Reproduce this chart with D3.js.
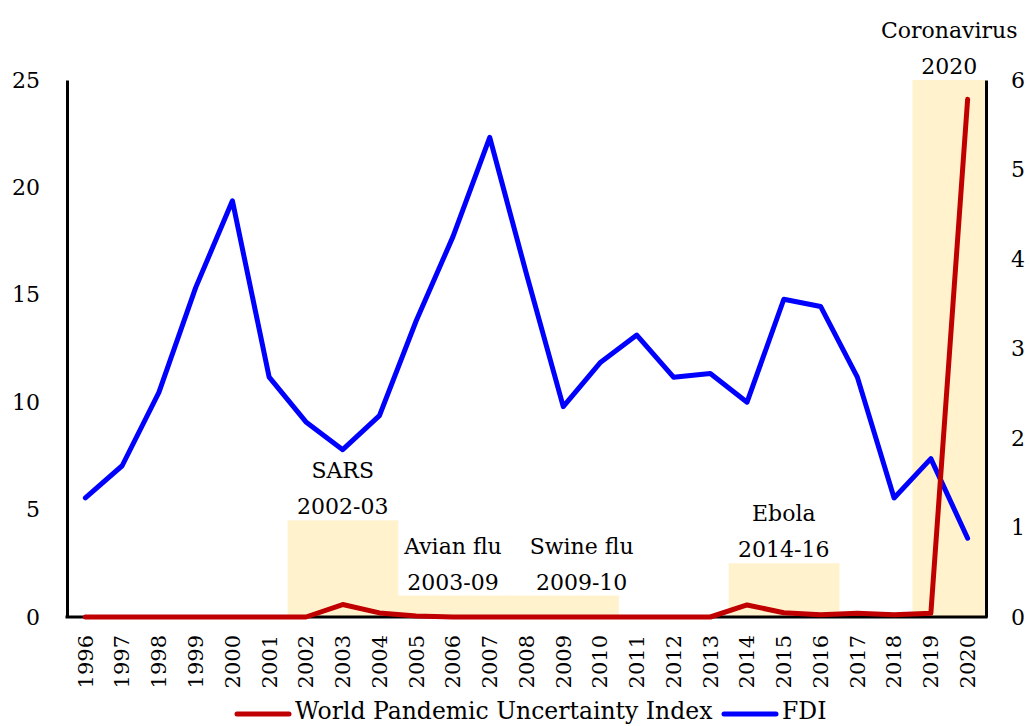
<!DOCTYPE html>
<html>
<head>
<meta charset="utf-8">
<script src="https://cdn.jsdelivr.net/npm/d3@7"></script>
<style>
  body { margin: 0; background: #fff; }
  svg { display: block; font-family: "Palatino Linotype", "Book Antiqua", Palatino, "DejaVu Serif", serif; }
</style>
</head>
<body>
<svg id="chart" width="1030" height="726"></svg>
<script>
// data
const years = ["1996","1997","1998","1999","2000","2001","2002","2003","2004","2005","2006","2007","2008",
               "2009","2010","2011","2012","2013","2014","2015","2016","2017","2018","2019","2020"];
const wpui = [0,0,0,0,0,0,0,0.58,0.19,0.05,0,0,0,0,0,0,0,0,0.56,0.2,0.1,0.17,0.1,0.17,24.1];
const fdi = [1.33,1.69,2.51,3.68,4.65,2.68,2.18,1.87,2.25,3.31,4.25,5.36,3.83,
             2.35,2.84,3.15,2.68,2.72,2.40,3.55,3.47,2.68,1.33,1.77,0.88];
// shaded pandemic periods (left axis)
const pandemicBars = [0,0,0,0,0,0,4.5,4.5,4.5,1,1,1,1,1,1,0,0,0,2.5,2.5,2.5,0,0,25,25];
const pandemicNames = ["SARS","Avian flu","Swine flu","Ebola","Coronavirus"];
const pandemicPeriods = ["2002-03","2003-09","2009-10","2014-16","2020"];
const pandemicLabelYears = [["2003","2003"],["2006","2006"],["2009","2010"],["2015","2015"],["2019","2020"]];
const pandemicLabelBase = [4.5,1,1,2.5,25];
const leftTicks = [0,5,10,15,20,25];
const rightTicks = [0,1,2,3,4,5,6];

const svg = d3.select("#chart");
const plotLeft = 67, plotRight = 986, plotTop = 80, plotBottom = 617;
const fontStack = "\"Palatino Linotype\", \"Book Antiqua\", Palatino, \"DejaVu Serif\", serif";

const x = d3.scaleBand().domain(years).range([plotLeft, plotRight]).paddingInner(0).paddingOuter(0);
const yL = d3.scaleLinear().domain([0, 25]).range([plotBottom, plotTop]);
const yR = d3.scaleLinear().domain([0, 6]).range([plotBottom, plotTop]);
const cx = d => x(d) + x.bandwidth() / 2;

// shaded bars
svg.append("g").selectAll("rect")
    .data(years.map((y, i) => ({year: y, v: pandemicBars[i]})).filter(d => d.v > 0))
    .enter()
    .append("rect")
    .attr("x", d => x(d.year))
    .attr("y", d => yL(d.v))
    .attr("width", x.bandwidth() + 0.5)
    .attr("height", d => plotBottom - yL(d.v))
    .attr("fill", "#FFF2CC");

// pandemic labels
const labels = svg.append("g").attr("font-size", 22).attr("fill", "#000").attr("text-anchor", "middle");
pandemicNames.forEach((name, i) => {
  const px = (cx(pandemicLabelYears[i][0]) + cx(pandemicLabelYears[i][1])) / 2;
  const py = yL(pandemicLabelBase[i]);
  labels.append("text").attr("x", px).attr("y", py - 42).text(name);
  labels.append("text").attr("x", px).attr("y", py - 6).text(pandemicPeriods[i]);
});

// axes
const axisL = svg.append("g").attr("transform", `translate(${plotLeft},0)`)
    .call(d3.axisLeft(yL).tickValues(leftTicks).tickFormat(d3.format("d"))
      .tickSize(0).tickPadding(27).tickSizeOuter(0));
const axisR = svg.append("g").attr("transform", `translate(${plotRight},0)`)
    .call(d3.axisRight(yR).tickValues(rightTicks).tickFormat(d3.format("d"))
      .tickSize(0).tickPadding(25).tickSizeOuter(0));
const axisB = svg.append("g").attr("transform", `translate(0,${plotBottom})`)
    .call(d3.axisBottom(x).tickSize(0).tickSizeOuter(0));

[axisL, axisR, axisB].forEach(g => {
  g.select(".domain").attr("stroke", "#000").attr("stroke-width", 3);
  g.selectAll("text").attr("font-size", 22).attr("fill", "#000").attr("font-family", fontStack);
});
axisB.select(".domain").attr("d", `M${plotLeft - 1.5},0H${plotRight + 1.5}`);
axisB.selectAll("text")
    .attr("font-size", 21)
    .attr("transform", "rotate(-90)")
    .attr("text-anchor", "end")
    .attr("x", -18)
    .attr("y", 0)
    .attr("dy", "0.35em");

// lines
const lineL = d3.line().x((d, i) => cx(years[i])).y(d => yL(d));
const lineR = d3.line().x((d, i) => cx(years[i])).y(d => yR(d));

svg.append("path")
    .datum(fdi)
    .attr("d", lineR)
    .attr("fill", "none")
    .attr("stroke", "#0000FF")
    .attr("stroke-width", 5)
    .attr("stroke-linejoin", "round")
    .attr("stroke-linecap", "round");

svg.append("path")
    .datum(wpui)
    .attr("d", lineL)
    .attr("fill", "none")
    .attr("stroke", "#C00000")
    .attr("stroke-width", 5)
    .attr("stroke-linejoin", "round")
    .attr("stroke-linecap", "round");

// legend
const legend = svg.append("g").attr("font-size", 23.5);
const legendItems = [
  {name: "World Pandemic Uncertainty Index", color: "#C00000", x0: 237},
  {name: "FDI", color: "#0000FF", x0: 724}
];
legendItems.forEach(d => {
  legend.append("line")
      .attr("x1", d.x0).attr("x2", d.x0 + 52)
      .attr("y1", 714).attr("y2", 714)
      .attr("stroke", d.color).attr("stroke-width", 5).attr("stroke-linecap", "round");
  legend.append("text").attr("x", d.x0 + 58).attr("y", 719).text(d.name);
});
</script>
</body>
</html>
